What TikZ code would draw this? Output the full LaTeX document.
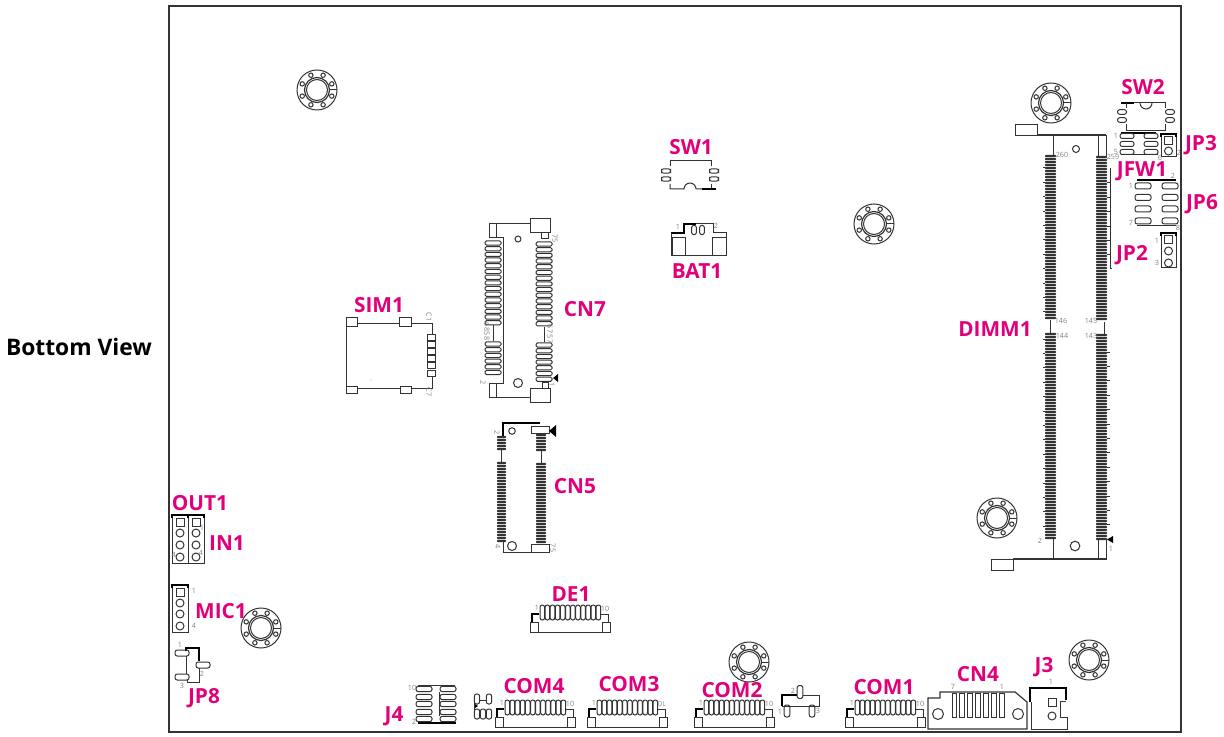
\documentclass[tikz,border=0pt]{standalone}
\usepackage{fontspec}
\setmainfont{Open Sans}
\definecolor{partpink}{HTML}{E2007A}
\definecolor{partline}{HTML}{333333}
\definecolor{pingrey}{HTML}{808080}
\tikzset{
    partname/.style={text=partpink,font=\fontsize{10.4}{12}\selectfont\bfseries,inner sep=0pt,text height=7.4pt,text depth=0pt},
    pinnum/.style={text=pingrey,font=\fontsize{3.6}{4}\selectfont,inner sep=0pt},
    outl/.style={draw=partline,line width=0.5pt},
    heavy/.style={draw=black,line width=1.1pt},
}
% round pad, centre and half sizes
\newcommand{\ovalpad}[4]{\draw[outl,rounded corners=1.1pt] ({#1-#3},{#2-#4}) rectangle ({#1+#3},{#2+#4});}
% mounting hole
\newcommand{\standoff}[2]{
    \begin{scope}[shift={(#1,#2)}]
        \draw[outl] (0,0) circle (20);
        \draw[outl,line width=0.6pt] (0,0) circle (12.5);
        \draw[outl] (0,0) circle (10.5);
        \draw[outl] (12.5,0) -- (20,0);
        \foreach \ang in {22.5,67.5,...,360}
            \draw[outl] (\ang:16) circle (2.2);
    \end{scope}
}
% dense dark pin rows
\newcommand{\darkrow}[5]{
    \pgfmathsetmacro{\nxtrow}{#3+#5}
    \foreach \py in {#3,\nxtrow,...,#4}
        \fill[partline,rounded corners=0.3pt] (#1,\py-1.05) rectangle (#2,\py+1.05);
}
% open pin rows
\newcommand{\openrow}[5]{
    \pgfmathsetmacro{\nxtrow}{#3+#5}
    \foreach \py in {#3,\nxtrow,...,#4}
        \draw[outl,rounded corners=0.7pt] (#1,\py-2.1) rectangle (#2,\py+2.1);
}
% header with square pin 1 and round pins
\newcommand{\headerbox}[5]{
    \draw[outl] (#1,#2) rectangle (#3,#4);
    \draw[heavy] (#1,#2+3) -- (#1,#2) -- (#3,#2) -- (#3,#2+3);
    \pgfmathsetmacro{\midx}{(#1+#3)/2}
    \draw[outl] (\midx-4,#2+3) rectangle (\midx+4,#2+11);
    \foreach \py in {#5}
        \draw[outl] (\midx,\py) circle (4);
}
% wire to board connector, #1 #2 is the top left of the left pad
\newcommand{\fpcconn}[5]{
    \begin{scope}[shift={(#1,#2)}]
        \draw[outl] (0,0) rectangle (8,10.5);
        \draw[outl] (72,0) rectangle (80,10.5);
        \draw[outl] (8,10) -- (72,10);
        \draw[heavy] (2,0) -- (2,-8) -- (9,-8);
        \draw[outl] (71,-8) -- (78,-8) -- (78,0);
        \foreach \k in {0,...,11}
            \draw[outl,rounded corners=1.1pt] (10+\k*5.1,-17) rectangle (14.6+\k*5.1,-2);
        \node[pinnum] (#3a) at (7,-14) {1};
        \node[pinnum,rotate=#5] (#3b) at (75,-13) {#4};
    \end{scope}
}
\begin{document}
\begin{tikzpicture}[x=0.5pt,y=-0.5pt]
    \useasboundingbox (0,0) rectangle (1224,737);
    % board
    \draw[draw=partline,line width=0.55pt] (169,6) rectangle (1181,732);
    \node[font=\fontsize{11.4}{13}\selectfont\bfseries,inner sep=0pt] (viewname) at (79,347) {Bottom View};

    % mounting holes
    \standoff{317}{90}
    \standoff{1051}{103}
    \standoff{874}{224}
    \standoff{997}{518}
    \standoff{261}{628}
    \standoff{749}{662}
    \standoff{1089}{660}

    % DIMM1
    \darkrow{1045}{1056}{156}{320}{3}
    \darkrow{1045}{1056}{334}{538}{3}
    \darkrow{1096}{1107}{157}{321}{3}
    \darkrow{1096}{1107}{335}{539}{3}
    \foreach \py in {168,182.4,...,320}
        \draw[outl] (1043,\py) -- (1045,\py);
    \foreach \py in {339,353.4,...,535}
        \draw[outl] (1043,\py) -- (1045,\py);
    \foreach \py in {352,366.4,...,535}
        \draw[outl] (1107,\py) -- (1110,\py);
    \draw[outl] (1110,168) -- (1110,269) -- (1112,269);
    \foreach \py in {183,197.4,...,269}
        \draw[outl] (1107,\py) -- (1110,\py);
    \draw[outl] (1050,320) -- (1050,333);
    \draw[outl] (1104,322) -- (1104,335);
    \draw[outl] (1015,125) rectangle (1037,136);
    \draw[outl,line width=0.6pt] (1037,135) -- (1106,135);
    \draw[outl] (1053,135) -- (1053,155);
    \draw[outl] (1098,135) -- (1098,156);
    \draw[outl] (1106,135) -- (1106,156);
    \draw[outl] (1076,149) circle (3.5);
    \draw[outl] (991,559) rectangle (1013,570);
    \draw[outl,line width=0.6pt] (1013,559) -- (1107,559);
    \draw[outl] (1053,539) -- (1053,559);
    \draw[outl] (1098,540) -- (1098,559);
    \draw[outl] (1106,540) -- (1106,559);
    \draw[outl] (1075,546) circle (4.8);
    \fill (1107,539.5) -- (1113,536) -- (1113,543) -- cycle;
    \node[pinnum] (d260) at (1062,155) {260};
    \node[pinnum] (d259) at (1113,157) {259};
    \node[pinnum] (d146) at (1061,321) {146};
    \node[pinnum] (d145) at (1091,321) {145};
    \node[pinnum] (d144) at (1062,336) {144};
    \node[pinnum] (d143) at (1091,336) {143};
    \node[pinnum] (d2) at (1040,541) {2};
    \node[pinnum] (d1) at (1111,549) {1};

    % SW2
    \draw[outl] (1121,103) -- (1166,103);
    \draw[heavy] (1121,103) -- (1134,103);
    \draw[outl] (1140,103) arc (180:0:6);
    \draw[outl] (1126,103) -- (1126,108);
    \draw[outl] (1126,124) -- (1126,131) -- (1165,131) -- (1165,124);
    \draw[outl] (1165,103) -- (1165,108);
    \ovalpad{1122}{112}{4.5}{2.3}
    \ovalpad{1122}{120}{4.5}{2.3}
    \ovalpad{1170}{112}{4.5}{2.3}
    \ovalpad{1170}{120}{4.5}{2.3}

    % JFW1
    \draw[heavy] (1121,133) -- (1156,133);
    \draw[outl] (1121,155) -- (1158,155);
    \foreach \py in {136,144,152}{
        \ovalpad{1127}{\py}{7}{2.5}
        \ovalpad{1151}{\py}{7}{2.5}
    }
    \node[pinnum] (f1) at (1116,136) {1};
    \node[pinnum] (f5) at (1116,152) {5};
    \node[pinnum] (f6) at (1160,158) {6};

    % JP3, JP2
    \headerbox{1161}{134}{1176}{157}{151}
    \node[pinnum] (t2) at (1179,153) {2};
    \headerbox{1161}{233}{1176}{268}{251,263}
    \node[pinnum] (k1) at (1157,241) {1};
    \node[pinnum] (k3) at (1157,263) {3};

    % JP6
    \draw[heavy] (1137,180) -- (1176,180);
    \draw[outl] (1137,226) -- (1176,226);
    \foreach \py in {186,197.5,209,221}{
        \ovalpad{1143}{\py}{8}{3}
        \ovalpad{1170}{\py}{8}{3}
    }
    \node[pinnum] (s1) at (1131,186) {1};
    \node[pinnum] (s7) at (1131,223) {7};
    \node[pinnum] (s2) at (1173,176) {2};
    \node[pinnum] (s8) at (1178,228) {8};

    % SW1
    \draw[outl] (670,166) -- (670,161) -- (711,161) -- (711,166);
    \draw[outl] (670,184) -- (670,189) -- (684,189) arc (180:360:6) -- (702,189);
    \draw[outl] (711,184) -- (711,189);
    \draw[heavy] (702,189) -- (716,189);
    \ovalpad{666}{171}{4.5}{2.2}
    \ovalpad{666}{179}{4.5}{2.2}
    \ovalpad{714}{171}{4.5}{2.2}
    \ovalpad{714}{179}{4.5}{2.2}

    % BAT1
    \draw[heavy] (671,233) -- (684,233) -- (684,224) -- (696,224);
    \draw[outl] (696,224) -- (713,224) -- (713,233) -- (726,233) -- (726,256) -- (671,256) -- (671,233);
    \draw[outl] (672,238) rectangle (685,256);
    \draw[outl] (712,238) rectangle (726,256);
    \ovalpad{694}{230}{2.4}{4.6}
    \ovalpad{702}{230}{2.4}{4.6}
    \node[pinnum] (b1) at (678,227) {1};
    \node[pinnum] (b2) at (716,226) {2};

    % SIM1
    \draw[outl] (346,323) -- (346,388);
    \draw[outl] (357,323) -- (399,323);
    \draw[outl] (411,323) -- (432,323) -- (432,334);
    \draw[outl] (357,388) -- (400,388);
    \draw[outl] (411,388) -- (432,388) -- (432,377);
    \draw[outl] (346,318) rectangle (357,326);
    \draw[outl] (399,318) rectangle (411,326);
    \draw[outl] (346,386) rectangle (357,393);
    \draw[outl] (400,386) rectangle (411,393);
    \foreach \k in {0,...,5}
        \draw[outl] (427,334+\k*7.2) rectangle (435,340+\k*7.2);
    \fill (371,380) circle (0.4);
    \node[pinnum,rotate=-90] (m1) at (429,317) {C1};
    \node[pinnum,rotate=-90] (m7) at (429,392) {C7};

    % CN7
    \draw[outl] (530,219) rectangle (550,233);
    \draw[outl] (530,388) rectangle (550,402);
    \draw[outl] (541,233) rectangle (548,239);
    \draw[outl] (542,382) rectangle (548,388);
    \draw[outl] (530,224) -- (489,224) -- (489,238) -- (503,238) -- (503,383) -- (489,383) -- (489,397) -- (530,397);
    \draw[outl] (496,224) -- (496,238);
    \draw[outl] (496,383) -- (496,397);
    \draw[outl] (518,239) circle (3);
    \draw[outl] (518,383) circle (4.5);
    \openrow{485}{501}{243}{323}{5.7}
    \openrow{485}{501}{344}{378}{5.7}
    \openrow{536}{552}{244}{325}{5.7}
    \openrow{536}{552}{345}{380}{5.7}
    \draw[outl] (493,325) -- (493,341);
    \draw[outl] (544,327) -- (544,342);
    \fill (553,378) -- (558,374) -- (558,382) -- cycle;
    \node[pinnum,rotate=-90] (c75) at (555,239) {75};
    \node[pinnum,rotate=-90] (c67) at (550,329) {67};
    \node[pinnum,rotate=-90] (c57) at (550,339) {57};
    \node[pinnum,rotate=-90] (c1) at (552,385) {1};
    \node[pinnum,rotate=-90] (c68) at (487,327) {68};
    \node[pinnum,rotate=-90] (c58) at (487,336) {58};
    \node[pinnum,rotate=-90] (c2) at (483,383) {2};

    % CN5
    \draw[heavy] (540,423) -- (503,423) -- (503,436);
    \draw[outl] (531,426) rectangle (549,433);
    \draw[outl] (531,544) rectangle (549,552);
    \draw[outl] (503,541) -- (503,552) -- (531,552);
    \draw[outl] (512,431) circle (3.3);
    \draw[outl] (512,546) circle (4.5);
    \darkrow{497}{506}{437}{449}{3}
    \darkrow{497}{506}{463}{541}{3}
    \darkrow{536}{546}{435}{451}{3}
    \darkrow{536}{546}{464}{543}{3}
    \draw[outl] (501,449) -- (501,462);
    \draw[outl] (541,451) -- (541,463);
    \fill (549,431) -- (556,425) -- (556,437) -- cycle;
    \node[pinnum,rotate=-90] (e2) at (497,433) {2};
    \node[pinnum,rotate=-90] (e4) at (498,547) {4};
    \node[pinnum,rotate=-90] (e5) at (553,548) {75};

    % OUT1, IN1, MIC1
    \headerbox{172}{515}{188}{563}{533,545,557}
    \headerbox{188}{515}{204}{563}{533,545,557}
    \headerbox{172}{585}{188}{632}{603,614,626}
    \node[pinnum] (o1) at (174,555) {4};
    \node[pinnum] (i1) at (202,528) {1};
    \node[pinnum] (i4) at (201,553) {4};
    \node[pinnum] (a1) at (194,591) {1};
    \node[pinnum] (a4) at (194,626) {4};

    % JP8
    \draw[heavy] (186,651) -- (186,648) -- (199,648) -- (199,661);
    \draw[outl] (186,656) -- (186,674);
    \draw[outl] (199,668) -- (199,682) -- (187,682) -- (187,680);
    \ovalpad{182}{653}{7}{3}
    \ovalpad{203}{665}{7}{3}
    \ovalpad{182}{677}{7}{3}
    \node[pinnum] (g1) at (180,645) {1};
    \node[pinnum] (g2) at (202,674) {2};
    \node[pinnum] (g3) at (182,686) {3};

    % J4
    \draw[outl] (418,685) -- (455,685);
    \draw[heavy] (418,723) -- (456,723);
    \foreach \py in {689,697,704,712,719}{
        \ovalpad{424}{\py}{8}{2.6}
        \ovalpad{448}{\py}{8}{2.6}
    }
    \draw[outl] (439,692) -- (439,716);
    \node[pinnum] (h10) at (412,688) {10};
    \node[pinnum] (h2) at (414,722) {2};

    % small part beside COM4
    \draw[outl] (474,696) -- (474,712);
    \draw[outl] (480,700) -- (486,700);
    \ovalpad{477}{699}{2.6}{5}
    \ovalpad{489}{699}{2.6}{5}
    \ovalpad{477}{714}{2.6}{5}
    \ovalpad{483}{714}{2.6}{5}
    \ovalpad{489}{714}{2.6}{5}
    \fill (475,704) -- (478,706) -- (475,708) -- cycle;

    % COM and DE connectors
    \fpcconn{495}{717}{ca}{10}{0}
    \fpcconn{587}{717}{cb}{10}{180}
    \fpcconn{694}{717}{cc}{10}{0}
    \fpcconn{845}{717}{cd}{10}{0}
    \fpcconn{530}{622}{ce}{10}{0}

    % part beside COM1
    \draw[heavy] (782,706) -- (782,695) -- (797,695);
    \draw[outl] (803,695) -- (819,695) -- (819,706) -- (782,706);
    \ovalpad{800}{692}{2.8}{6.5}
    \ovalpad{787}{711}{2.8}{6}
    \ovalpad{812}{711}{2.8}{6}
    \node[pinnum] (y2) at (793,691) {2};
    \node[pinnum] (y1) at (780,712) {1};
    \node[pinnum] (y3) at (818,711) {3};

    % CN4
    \draw[outl,line width=0.6pt] (928,698) -- (940,698) -- (940,692) -- (1015,692) -- (1027,702) -- (1027,729) -- (928,729) -- cycle;
    \foreach \k in {0,...,6}
        \draw[outl] (952+\k*7.95,693) rectangle (956.7+\k*7.95,717);
    \draw[outl] (938,714) circle (5.5);
    \draw[outl] (1018,714) circle (5.5);
    \node[pinnum] (n7) at (953,687) {7};
    \node[pinnum] (n1) at (1002,687) {1};

    % J3
    \draw[heavy] (1030,702) -- (1030,688) -- (1066,688) -- (1066,700);
    \draw[outl] (1031,702) -- (1031,729) -- (1067,729) -- (1067,717) -- (1060,717) -- (1060,701) -- (1066,701);
    \draw[outl] (1048,698) rectangle (1056,706);
    \draw[outl] (1052,716) circle (4);
    \node[pinnum] (j1) at (1051,682) {1};

    % names
    \node[partname] (sw2) at (1143,87) {SW2};
    \node[partname] (jp3) at (1201,143) {JP3};
    \node[partname] (jfw1) at (1142,169) {JFW1};
    \node[partname] (jp6) at (1202,202) {JP6};
    \node[partname] (jp2) at (1132,253) {JP2};
    \node[partname] (dimm1) at (995,329) {DIMM1};
    \node[partname] (sw1) at (691,147) {SW1};
    \node[partname] (bat1) at (697,271) {BAT1};
    \node[partname] (sim1) at (379,305) {SIM1};
    \node[partname] (cn7) at (585,309) {CN7};
    \node[partname] (cn5) at (575,486) {CN5};
    \node[partname] (out1) at (200,503) {OUT1};
    \node[partname] (in1) at (227,543) {IN1};
    \node[partname] (mic1) at (221,611) {MIC1};
    \node[partname] (jp8) at (204,696) {JP8};
    \node[partname] (j4) at (394,714) {J4};
    \node[partname] (de1) at (571,594) {DE1};
    \node[partname] (com4) at (534,686) {COM4};
    \node[partname] (com3) at (629,684) {COM3};
    \node[partname] (com2) at (732,690) {COM2};
    \node[partname] (com1) at (884,687) {COM1};
    \node[partname] (cn4) at (978,674) {CN4};
    \node[partname] (j3) at (1044,665) {J3};
\end{tikzpicture}
\end{document}
